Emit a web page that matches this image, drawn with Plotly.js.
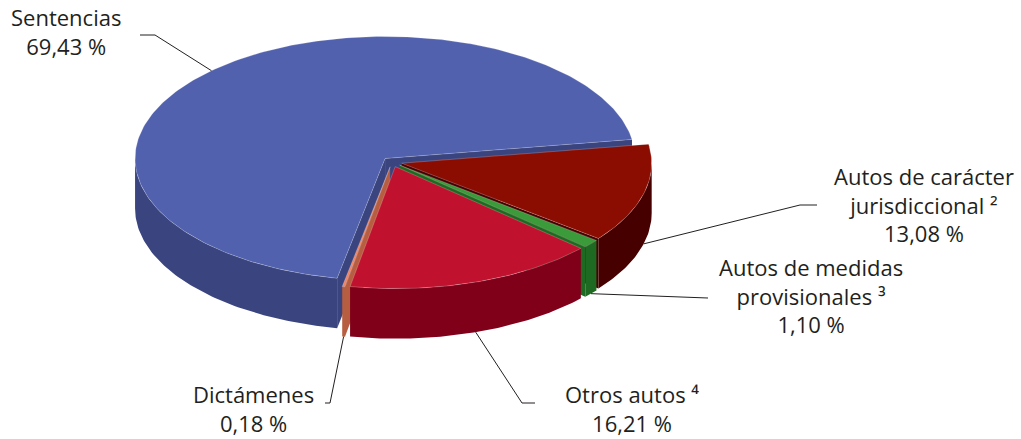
<!DOCTYPE html>
<html>
<head>
<meta charset="utf-8">
<script src="https://cdn.plot.ly/plotly-3.0.1.min.js"></script>
<style>html,body{margin:0;padding:0;background:#fff;}#chart{width:1021px;height:439px;}</style>
</head>
<body>
<div id="chart"></div>
<script>
// ---- data (in pie order, clockwise from the right) ----
const categories = ['Autos de carácter jurisdiccional', 'Autos de medidas provisionales', 'Otros autos', 'Dictámenes', 'Sentencias'];
const values = [13.08, 1.10, 16.21, 0.18, 69.43];
const valueLabels = ['13,08 %', '1,10 %', '16,21 %', '0,18 %', '69,43 %'];
const labelTexts = ['Autos de carácter<br>jurisdiccional ²', 'Autos de medidas<br>provisionales ³', 'Otros autos ⁴', 'Dictámenes', 'Sentencias'];

// ---- styles / geometry ----
const topColors = ['#8B0D02', '#3B9A3A', '#C0122F', '#EE8566', '#5161AD'];
const sideColors = ['#470000', '#1E6A22', '#80001A', '#B85E40', '#3A4580'];
const center = {x: 392, y: 162};
const RX = 250, RY = 122, DEPTH = 50, EXPLODE = 10, START = -9;
// label placement: label centre, leader elbow and end
const labelPos = [
  {x: 924, y: 204, elbow: [800, 205], end: [817, 205]},
  {x: 811, y: 295, elbow: [660, 296], end: [708, 298]},
  {x: 632, y: 408, elbow: [522, 403], end: [535, 403]},
  {x: 253, y: 408, elbow: [330, 403], end: [325, 403]},
  {x: 66, y: 31, elbow: [155, 35], end: [140, 35]}
];
const textColor = '#231F20';

const rad = d => d * Math.PI / 180;
const total = values.reduce((s, v) => s + v, 0);
let acc = START;
const slices = values.map((v, i) => {
  const a0 = acc, a1 = acc + v / total * 360; acc = a1;
  const m = (a0 + a1) / 2;
  const vx = center.x + EXPLODE * Math.cos(rad(m));
  const vy = center.y + EXPLODE * Math.sin(rad(m)) * RY / RX;
  return {i, a0, a1, m, vx, vy};
});
const P = (s, t, dz) => [s.vx + RX * Math.cos(rad(t)), s.vy + RY * Math.sin(rad(t)) + (dz || 0)];
function arc(s, t0, t1, dz) {
  const n = Math.max(2, Math.ceil(Math.abs(t1 - t0)));
  const pts = [];
  for (let k = 0; k <= n; k++) pts.push(P(s, t0 + (t1 - t0) * k / n, dz));
  return pts;
}
function poly(pts, color, line) {
  return {type: 'scatter', mode: 'lines', x: pts.map(p => p[0]).concat([pts[0][0]]), y: pts.map(p => p[1]).concat([pts[0][1]]),
    fill: 'toself', fillcolor: color, line: {width: line ? 0.6 : 0, color: line || color}, hoverinfo: 'skip', showlegend: false};
}

const radialWalls = [], outerWalls = [], tops = [];
slices.forEach(s => {
  const i = s.i;
  if (Math.cos(rad(s.a0)) < 0) {
    const p = P(s, s.a0);
    radialWalls.push({z: (s.vy + p[1]) / 2, tr: poly([[s.vx, s.vy], p, [p[0], p[1] + DEPTH], [s.vx, s.vy + DEPTH]], sideColors[i])});
  }
  if (Math.cos(rad(s.a1)) > 0) {
    const p = P(s, s.a1);
    radialWalls.push({z: (s.vy + p[1]) / 2, tr: poly([[s.vx, s.vy], p, [p[0], p[1] + DEPTH], [s.vx, s.vy + DEPTH]], sideColors[i])});
  }
  for (let k = -1; k <= 1; k++) {
    const lo = Math.max(s.a0, k * 360), hi = Math.min(s.a1, k * 360 + 180);
    if (hi > lo) {
      const topA = arc(s, lo, hi, 0), botA = arc(s, hi, lo, DEPTH);
      outerWalls.push({z: s.vy, tr: poly(topA.concat(botA), sideColors[i])});
    }
  }
  tops.push(poly([[s.vx, s.vy]].concat(arc(s, s.a0, s.a1, 0)), topColors[i], 'rgba(255,255,255,0.35)'));
});
radialWalls.sort((a, b) => a.z - b.z);
outerWalls.sort((a, b) => a.z - b.z);

const traces = [].concat(radialWalls.map(w => w.tr), outerWalls.map(w => w.tr), tops);

const annotations = [];
slices.forEach(s => {
  const front = Math.sin(rad(s.m)) > 0;
  const a = P(s, s.m, front ? DEPTH : 0);
  const L = labelPos[s.i];
  traces.push({type: 'scatter', mode: 'lines', x: [a[0], L.elbow[0], L.end[0]], y: [a[1], L.elbow[1], L.end[1]],
    line: {color: textColor, width: 1}, hoverinfo: 'skip', showlegend: false});
  annotations.push({x: L.x, y: L.y, xref: 'x', yref: 'y', xanchor: 'center', yanchor: 'middle', showarrow: false,
    text: labelTexts[s.i] + '<br>' + valueLabels[s.i], align: 'center',
    font: {family: 'Open Sans, sans-serif', size: 22, color: textColor}});
});

const layout = {
  width: 1021, height: 439, margin: {l: 0, r: 0, t: 0, b: 0},
  paper_bgcolor: '#fff', plot_bgcolor: '#fff', showlegend: false,
  xaxis: {range: [0, 1021], visible: false, fixedrange: true},
  yaxis: {range: [439, 0], visible: false, fixedrange: true},
  annotations: annotations
};
Plotly.newPlot('chart', traces, layout, {displayModeBar: false, staticPlot: true});
</script>
</body>
</html>
